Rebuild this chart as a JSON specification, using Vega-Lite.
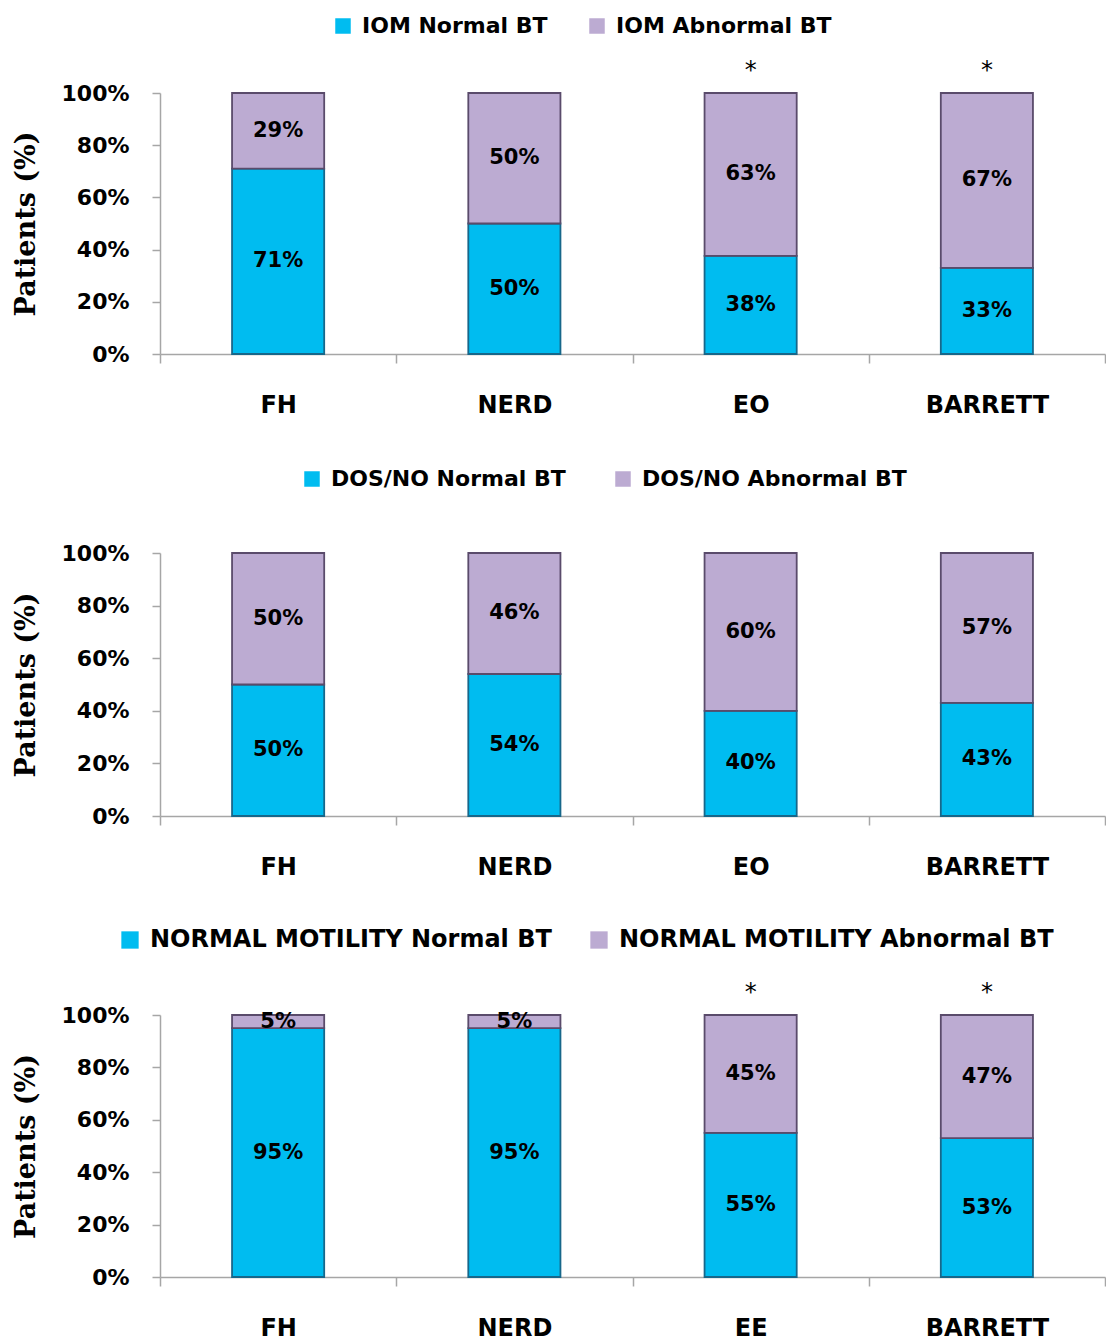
{
  "$schema": "https://vega.github.io/schema/vega-lite/v6.json",
  "background": "white",
  "padding": {"left": 12, "top": 15, "right": 0, "bottom": 0},
  "bounds": "flush",
  "spacing": 199,
  "datasets": {
    "bt": [
      {"panel": 1, "cat": "FH", "kind": "Normal", "series": "IOM Normal BT", "value": 0.71},
      {"panel": 1, "cat": "FH", "kind": "Abnormal", "series": "IOM Abnormal BT", "value": 0.29},
      {"panel": 1, "cat": "NERD", "kind": "Normal", "series": "IOM Normal BT", "value": 0.50},
      {"panel": 1, "cat": "NERD", "kind": "Abnormal", "series": "IOM Abnormal BT", "value": 0.50},
      {"panel": 1, "cat": "EO", "kind": "Normal", "series": "IOM Normal BT", "value": 0.38},
      {"panel": 1, "cat": "EO", "kind": "Abnormal", "series": "IOM Abnormal BT", "value": 0.63},
      {"panel": 1, "cat": "BARRETT", "kind": "Normal", "series": "IOM Normal BT", "value": 0.33},
      {"panel": 1, "cat": "BARRETT", "kind": "Abnormal", "series": "IOM Abnormal BT", "value": 0.67},
      {"panel": 2, "cat": "FH", "kind": "Normal", "series": "DOS/NO Normal BT", "value": 0.50},
      {"panel": 2, "cat": "FH", "kind": "Abnormal", "series": "DOS/NO Abnormal BT", "value": 0.50},
      {"panel": 2, "cat": "NERD", "kind": "Normal", "series": "DOS/NO Normal BT", "value": 0.54},
      {"panel": 2, "cat": "NERD", "kind": "Abnormal", "series": "DOS/NO Abnormal BT", "value": 0.46},
      {"panel": 2, "cat": "EO", "kind": "Normal", "series": "DOS/NO Normal BT", "value": 0.40},
      {"panel": 2, "cat": "EO", "kind": "Abnormal", "series": "DOS/NO Abnormal BT", "value": 0.60},
      {"panel": 2, "cat": "BARRETT", "kind": "Normal", "series": "DOS/NO Normal BT", "value": 0.43},
      {"panel": 2, "cat": "BARRETT", "kind": "Abnormal", "series": "DOS/NO Abnormal BT", "value": 0.57},
      {"panel": 3, "cat": "FH", "kind": "Normal", "series": "NORMAL MOTILITY Normal BT", "value": 0.95},
      {"panel": 3, "cat": "FH", "kind": "Abnormal", "series": "NORMAL MOTILITY Abnormal BT", "value": 0.05},
      {"panel": 3, "cat": "NERD", "kind": "Normal", "series": "NORMAL MOTILITY Normal BT", "value": 0.95},
      {"panel": 3, "cat": "NERD", "kind": "Abnormal", "series": "NORMAL MOTILITY Abnormal BT", "value": 0.05},
      {"panel": 3, "cat": "EE", "kind": "Normal", "series": "NORMAL MOTILITY Normal BT", "value": 0.55},
      {"panel": 3, "cat": "EE", "kind": "Abnormal", "series": "NORMAL MOTILITY Abnormal BT", "value": 0.45},
      {"panel": 3, "cat": "BARRETT", "kind": "Normal", "series": "NORMAL MOTILITY Normal BT", "value": 0.53},
      {"panel": 3, "cat": "BARRETT", "kind": "Abnormal", "series": "NORMAL MOTILITY Abnormal BT", "value": 0.47}
    ],
    "stars": [
      {"panel": 1, "cat": "EO", "sym": "*"},
      {"panel": 1, "cat": "BARRETT", "sym": "*"},
      {"panel": 3, "cat": "EE", "sym": "*"},
      {"panel": 3, "cat": "BARRETT", "sym": "*"}
    ]
  },
  "config": {
    "view": {"stroke": null},
    "scale": {"bandPaddingInner": 0, "bandPaddingOuter": 0},
    "axisX": {
      "title": null,
      "labelFont": "DejaVu Sans",
      "labelFontWeight": "bold",
      "labelFontSize": 24,
      "labelColor": "black",
      "labelAngle": 0,
      "labelPadding": 30,
      "tickBand": "extent",
      "tickSize": 9,
      "tickColor": "#A6A6A6",
      "domainColor": "#A6A6A6",
      "domainWidth": 1.5,
      "tickWidth": 1.5
    },
    "axisY": {
      "titleFont": "DejaVu Serif",
      "titleFontSize": 27,
      "titleFontWeight": "bold",
      "titleColor": "black",
      "titlePadding": 21,
      "labelFont": "DejaVu Sans",
      "labelFontWeight": "bold",
      "labelFontSize": 22,
      "labelColor": "black",
      "labelPadding": 23,
      "tickSize": 8,
      "tickColor": "#A6A6A6",
      "domainColor": "#A6A6A6",
      "domainWidth": 1.5,
      "tickWidth": 1.5,
      "grid": false,
      "values": [0, 0.2, 0.4, 0.6, 0.8, 1],
      "format": ".0%"
    },
    "legend": {
      "orient": "none",
      "direction": "horizontal",
      "title": null,
      "symbolType": "square",
      "symbolSize": 240,
      "symbolStrokeWidth": 0,
      "labelFont": "DejaVu Sans",
      "labelFontWeight": "bold",
      "labelFontSize": 22,
      "labelColor": "black",
      "labelOffset": 8,
      "labelLimit": 0
    }
  },
  "resolve": {
    "scale": {"x": "independent", "y": "independent", "color": "independent", "stroke": "independent"},
    "legend": {"color": "independent"}
  },
  "vconcat": [
    {
      "width": 945,
      "height": 261,
      "layer": [
        {
          "data": {"name": "bt"},
          "transform": [{"filter": "datum.panel == 1"}],
          "mark": {"type": "bar", "strokeWidth": 1.8, "width": {"band": 0.39}},
          "encoding": {
            "x": {"field": "cat", "type": "nominal", "sort": null},
            "y": {"field": "value", "type": "quantitative", "stack": "normalize", "scale": {"domain": [0, 1]}, "axis": {"title": "Patients (%)"}},
            "color": {"field": "series", "type": "nominal", "scale": {"domain": ["IOM Normal BT", "IOM Abnormal BT"], "range": ["#00BCF0", "#BCABD2"]}, "legend": {"legendX": 172, "legendY": -78, "columnPadding": 38}},
            "stroke": {"field": "series", "type": "nominal", "scale": {"domain": ["IOM Normal BT", "IOM Abnormal BT"], "range": ["#17678A", "#5A4B6B"]}, "legend": null},
            "order": {"field": "kind", "sort": "descending"}
          }
        },
        {
          "data": {"name": "bt"},
          "transform": [{"filter": "datum.panel == 1"}],
          "mark": {"type": "text", "font": "DejaVu Sans", "fontWeight": "bold", "fontSize": 21, "color": "black", "baseline": "middle"},
          "encoding": {
            "x": {"field": "cat", "type": "nominal", "sort": null},
            "y": {"field": "value", "type": "quantitative", "stack": "normalize", "bandPosition": 0.5},
            "text": {"field": "value", "type": "quantitative", "format": ".0%"},
            "order": {"field": "kind", "sort": "descending"}
          }
        },
        {
          "data": {"name": "stars"},
          "transform": [{"filter": "datum.panel == 1"}],
          "mark": {"type": "text", "font": "DejaVu Sans", "fontSize": 24, "color": "black", "baseline": "alphabetic", "dy": -15},
          "encoding": {
            "x": {"field": "cat", "type": "nominal", "sort": null},
            "y": {"datum": 1, "type": "quantitative"},
            "text": {"field": "sym"}
          }
        }
      ]
    },
    {
      "width": 945,
      "height": 263,
      "layer": [
        {
          "data": {"name": "bt"},
          "transform": [{"filter": "datum.panel == 2"}],
          "mark": {"type": "bar", "strokeWidth": 1.8, "width": {"band": 0.39}},
          "encoding": {
            "x": {"field": "cat", "type": "nominal", "sort": null},
            "y": {"field": "value", "type": "quantitative", "stack": "normalize", "scale": {"domain": [0, 1]}, "axis": {"title": "Patients (%)"}},
            "color": {"field": "series", "type": "nominal", "scale": {"domain": ["DOS/NO Normal BT", "DOS/NO Abnormal BT"], "range": ["#00BCF0", "#BCABD2"]}, "legend": {"legendX": 141, "legendY": -85, "columnPadding": 46}},
            "stroke": {"field": "series", "type": "nominal", "scale": {"domain": ["DOS/NO Normal BT", "DOS/NO Abnormal BT"], "range": ["#17678A", "#5A4B6B"]}, "legend": null},
            "order": {"field": "kind", "sort": "descending"}
          }
        },
        {
          "data": {"name": "bt"},
          "transform": [{"filter": "datum.panel == 2"}],
          "mark": {"type": "text", "font": "DejaVu Sans", "fontWeight": "bold", "fontSize": 21, "color": "black", "baseline": "middle"},
          "encoding": {
            "x": {"field": "cat", "type": "nominal", "sort": null},
            "y": {"field": "value", "type": "quantitative", "stack": "normalize", "bandPosition": 0.5},
            "text": {"field": "value", "type": "quantitative", "format": ".0%"},
            "order": {"field": "kind", "sort": "descending"}
          }
        }
      ]
    },
    {
      "width": 945,
      "height": 262,
      "layer": [
        {
          "data": {"name": "bt"},
          "transform": [{"filter": "datum.panel == 3"}],
          "mark": {"type": "bar", "strokeWidth": 1.8, "width": {"band": 0.39}},
          "encoding": {
            "x": {"field": "cat", "type": "nominal", "sort": null},
            "y": {"field": "value", "type": "quantitative", "stack": "normalize", "scale": {"domain": [0, 1]}, "axis": {"title": "Patients (%)"}},
            "color": {"field": "series", "type": "nominal", "scale": {"domain": ["NORMAL MOTILITY Normal BT", "NORMAL MOTILITY Abnormal BT"], "range": ["#00BCF0", "#BCABD2"]}, "legend": {"legendX": -42, "legendY": -87, "columnPadding": 35, "labelFontSize": 24, "symbolSize": 300}},
            "stroke": {"field": "series", "type": "nominal", "scale": {"domain": ["NORMAL MOTILITY Normal BT", "NORMAL MOTILITY Abnormal BT"], "range": ["#17678A", "#5A4B6B"]}, "legend": null},
            "order": {"field": "kind", "sort": "descending"}
          }
        },
        {
          "data": {"name": "bt"},
          "transform": [{"filter": "datum.panel == 3"}],
          "mark": {"type": "text", "font": "DejaVu Sans", "fontWeight": "bold", "fontSize": 21, "color": "black", "baseline": "middle"},
          "encoding": {
            "x": {"field": "cat", "type": "nominal", "sort": null},
            "y": {"field": "value", "type": "quantitative", "stack": "normalize", "bandPosition": 0.5},
            "text": {"field": "value", "type": "quantitative", "format": ".0%"},
            "order": {"field": "kind", "sort": "descending"}
          }
        },
        {
          "data": {"name": "stars"},
          "transform": [{"filter": "datum.panel == 3"}],
          "mark": {"type": "text", "font": "DejaVu Sans", "fontSize": 24, "color": "black", "baseline": "alphabetic", "dy": -15},
          "encoding": {
            "x": {"field": "cat", "type": "nominal", "sort": null},
            "y": {"datum": 1, "type": "quantitative"},
            "text": {"field": "sym"}
          }
        }
      ]
    }
  ]
}
